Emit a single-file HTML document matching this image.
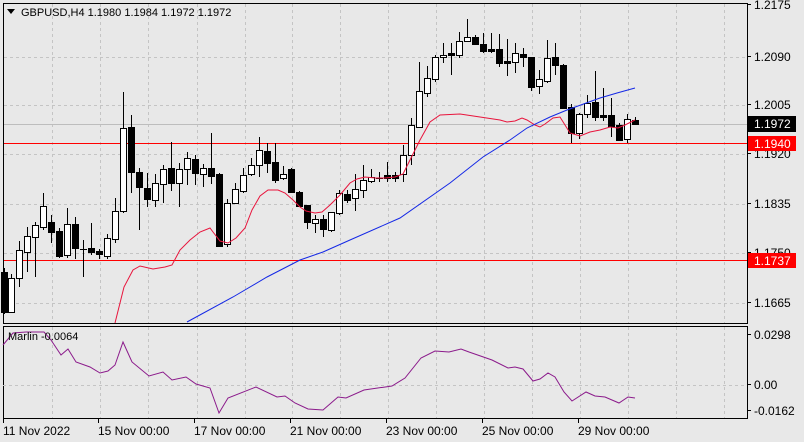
<!DOCTYPE html>
<html><head><meta charset="utf-8"><style>
html,body{margin:0;padding:0;background:#e8e8e8;}
svg{display:block;font-family:"Liberation Sans",sans-serif;font-size:11px;}
</style></head><body>
<svg id="s" width="804" height="442" xmlns="http://www.w3.org/2000/svg">
<rect width="804" height="442" fill="#e8e8e8"/>
<g id="grid" stroke="#c4c4c4" stroke-dasharray="3,3" stroke-width="1"></g>
<line x1="3" y1="124.5" x2="747" y2="124.5" stroke="#bdbdbd"/>
<line x1="3" y1="143.5" x2="747" y2="143.5" stroke="#f00"/>
<line x1="3" y1="260.5" x2="747" y2="260.5" stroke="#f00"/>
<g id="c"></g>
<polyline fill="none" stroke="#e8143c" stroke-width="1" points="115,323 124,287 133,270 140,266 153,269 165,267 172,265 180,250 190,240 200,232 210,228 213,232 220,241 228,243 236,238 245,228 252,210 260,196 268,190 278,190 285,193 293,200 300,207 306,211 315,213 322,212 330,205 340,195 350,183 357,179 365,177 375,178 385,178 395,177 403,174 410,160 420,140 430,122 440,115 460,114 480,117 500,120 507,122 515,121 522,118 527,120 535,125 540,127 545,124 553,118 560,117 565,125 570,133 580,136 590,132 600,130 610,127 618,128 625,125 635,120"/>
<polyline fill="none" stroke="#1428e6" stroke-width="1" points="187,322 233,297 267,277 300,260 323,252 350,240 400,218 450,183 483,157 510,140 527,128 550,117 567,110 600,98 617,93 635,88"/>
<rect x="3.5" y="3.5" width="744" height="320" fill="none" stroke="#000"/>
<rect x="3.5" y="326.5" width="744" height="92" fill="none" stroke="#000"/>
<line x1="3" y1="385.5" x2="747" y2="385.5" stroke="#c4c4c4" stroke-dasharray="3,3"/>
<polyline fill="none" stroke="#8b1a8b" stroke-width="1" points="3,345 13,333 26,332 44,332 51,340 61,355 68,349 76,362 90,367 100,373 108,371 115,365 123,342 132,362 149,376 163,372 172,380 186,377 196,384 210,388 219,413 228,398 256,387 277,397 285,396 295,403 308,409 323,410 338,397 346,398 364,390 392,386 405,378 421,358 435,351 449,352 461,349 469,352 492,360 508,368 515,367 523,369 533,381 540,379 548,373 555,377 564,392 572,401 586,392 595,396 605,397 619,403 628,397 635,398"/>
<text x="8" y="340" fill="#000">Marlin -0.0064</text>
<path d="M7,9 L15,9 L11,14 Z" fill="#000"/>
<text x="21" y="16" fill="#000">GBPUSD,H4  1.1980 1.1984 1.1972 1.1972</text>
<g id="ax" fill="#000" style="font-size:12px"></g>
<rect x="748" y="116" width="48" height="16" fill="#000"/>
<text x="754" y="128" fill="#fff" style="font-size:12px">1.1972</text>
<rect x="748" y="136" width="48" height="15" fill="#f00"/>
<text x="754" y="148" fill="#fff" style="font-size:12px">1.1940</text>
<rect x="748" y="253" width="48" height="15" fill="#f00"/>
<text x="754" y="265" fill="#fff" style="font-size:12px">1.1737</text>
</svg>
<script>
var NS="http://www.w3.org/2000/svg";
function el(p,t,a,txt){var e=document.createElementNS(NS,t);for(var k in a)e.setAttribute(k,a[k]);if(txt)e.textContent=txt;document.getElementById(p).appendChild(e);return e;}
[52,100,148,197,245,292,340,388,436,484,532,580,628,676,724].forEach(function(x){el("grid","line",{x1:x+.5,y1:4,x2:x+.5,y2:323});el("grid","line",{x1:x+.5,y1:327,x2:x+.5,y2:418});});
[57,105,154,204,253,303].forEach(function(y){el("grid","line",{x1:4,y1:y+.5,x2:747,y2:y+.5});});
[["1.2175",9],["1.2090",61],["1.2005",109],["1.1920",158],["1.1835",208],["1.1750",257],["1.1665",307],["0.0298",339],["0.00",389],["-0.0162",415]].forEach(function(a){el("ax","text",{x:754,y:a[1]},a[0]);el("ax","line",{x1:748,y1:a[1]-4.5,x2:751,y2:a[1]-4.5,stroke:"#000"});});
[["11 Nov 2022",3],["15 Nov 00:00",98],["17 Nov 00:00",194],["21 Nov 00:00",290],["23 Nov 00:00",386],["25 Nov 00:00",482],["29 Nov 00:00",578]].forEach(function(a){el("ax","text",{x:a[1],y:435},a[0]);el("ax","line",{x1:a[1]+.5,y1:419,x2:a[1]+.5,y2:423,stroke:"#000"});});
var C=[[4,272,312,268,314,1],[11,278,312,274,313,0],[19,250,278,241,287,0],[27,236,252,227,272,0],[35,225,237,222,277,0],[43,206,227,193,230,0],[51,222,232,215,243,1],[59,231,256,228,258,1],[67,224,255,208,258,0],[75,224,248,217,259,1],[83,249,249,240,277,1],[91,248,252,223,255,1],[99,251,254,249,259,1],[107,238,256,234,259,0],[115,211,239,198,243,0],[123,128,211,92,213,0],[131,127,172,115,193,1],[139,172,187,168,230,1],[147,188,199,173,207,1],[155,183,200,174,207,0],[163,169,184,165,203,0],[171,168,183,142,191,1],[179,169,183,163,207,0],[187,158,169,152,185,0],[195,159,173,155,185,1],[203,168,174,164,187,0],[211,168,176,133,184,1],[219,174,246,173,247,1],[227,203,244,199,247,0],[235,189,203,183,204,0],[243,175,191,168,193,0],[251,165,174,158,176,0],[259,150,165,137,177,0],[267,151,163,143,173,1],[275,162,180,143,183,1],[283,174,178,166,180,0],[291,169,192,168,193,1],[299,192,206,191,207,1],[307,205,222,205,229,1],[315,219,223,215,233,0],[323,219,229,215,237,1],[331,212,230,212,232,0],[339,193,213,190,215,0],[347,194,200,190,203,1],[355,189,198,174,211,0],[363,180,190,165,198,0],[371,177,181,169,183,0],[379,178,178,172,182,1],[387,175,178,162,182,1],[395,175,178,172,182,1],[403,155,174,145,182,0],[411,125,155,118,165,0],[419,91,127,62,128,0],[427,78,93,66,97,0],[435,57,79,55,82,0],[443,55,57,43,63,0],[451,53,55,43,75,1],[459,41,55,32,58,0],[467,37,41,19,42,0],[475,37,44,35,45,1],[483,44,51,33,53,1],[491,49,51,33,53,1],[499,49,63,34,67,1],[507,61,63,39,76,1],[515,53,62,43,73,0],[523,54,57,48,67,1],[531,57,87,57,91,1],[539,79,86,70,94,0],[547,58,81,40,83,0],[555,57,65,43,75,1],[563,65,108,64,109,1],[571,107,133,104,143,1],[579,114,133,113,139,0],[587,103,114,95,118,0],[595,102,117,71,121,1],[603,115,117,88,121,1],[611,115,126,98,137,1],[619,125,140,123,141,1],[627,119,139,114,143,0],[635,120,124,117,125,1]];
C.forEach(function(c){var x=c[0];el("c","line",{x1:x+.5,y1:c[3],x2:x+.5,y2:c[4],stroke:"#000"});var h=Math.max(c[2]-c[1],1);
if(c[2]-c[1]<2){el("c","line",{x1:x-3,y1:c[1]+.5,x2:x+4,y2:c[1]+.5,stroke:"#000"});}
else el("c","rect",{x:x-2.5,y:c[1]+.5,width:6,height:h,fill:c[5]?"#000":"#fff",stroke:"#000"});});
</script>
</body></html>
